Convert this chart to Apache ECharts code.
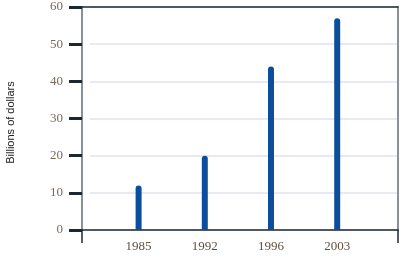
<!DOCTYPE html>
<html><head><meta charset="utf-8">
<script src="https://cdn.jsdelivr.net/npm/echarts@6/dist/echarts.min.js"></script>
<style>html,body{margin:0;padding:0;background:#fff}#c{width:407px;height:262px}</style>
</head><body><div id="c"></div>
<script>
const categories = ['1985', '1992', '1996', '2003'];
const values = [12, 20, 44, 57];
const yTicks = [0, 10, 20, 30, 40, 50, 60];
const yTitle = 'Billions of dollars';

const serif = '"Liberation Serif", "DejaVu Serif", serif';
const chart = echarts.init(document.getElementById('c'));
const g = {top: 7, bottom: 32, containLabel: false, outerBoundsMode: 'none'};
chart.setOption({
  animation: false,
  grid: [
    Object.assign({left: 82, right: 9}, g),
    Object.assign({left: 90, right: 9}, g),
    Object.assign({left: 105.5, right: 36.7}, g)
  ],
  xAxis: [
    {gridIndex: 0, type: 'value', min: 0, max: 1, interval: 1, position: 'bottom',
     axisLine: {show: true, onZero: false, lineStyle: {color: '#1c2733', width: 1.5}},
     axisTick: {show: true, length: 13, lineStyle: {color: '#1c2733', width: 1.5}},
     axisLabel: {show: false}, splitLine: {show: false}},
    {gridIndex: 0, type: 'value', min: 0, max: 1, position: 'top',
     axisLine: {show: true, onZero: false, lineStyle: {color: '#1c2733', width: 1.5}},
     axisTick: {show: false}, axisLabel: {show: false}, splitLine: {show: false}},
    {gridIndex: 1, type: 'value', min: 0, max: 1, show: false},
    {gridIndex: 2, type: 'category', data: categories, boundaryGap: true,
     axisLine: {show: false, onZero: false}, axisTick: {show: false},
     axisLabel: {color: '#5e5040', fontFamily: serif, fontSize: 13, margin: 10}}
  ],
  yAxis: [
    {gridIndex: 0, type: 'value', min: yTicks[0], max: yTicks[yTicks.length - 1],
     interval: yTicks[1] - yTicks[0], position: 'left',
     name: yTitle, nameLocation: 'middle', nameGap: 66, nameRotate: 90,
     nameTextStyle: {color: '#222', fontFamily: '"Liberation Sans", Arial, sans-serif', fontSize: 11, padding: [0, 8, 0, 0]},
     axisLine: {show: true, onZero: false, lineStyle: {color: '#8a9098', width: 2}},
     axisTick: {show: true, length: 13, lineStyle: {color: '#1c2733', width: 3}},
     axisLabel: {color: '#7a6a58', fontFamily: serif, fontSize: 13, margin: 19},
     splitLine: {show: false}},
    {gridIndex: 0, type: 'value', min: 0, max: 60, position: 'right',
     axisLine: {show: true, onZero: false, lineStyle: {color: '#8a9098', width: 2}},
     axisTick: {show: false}, axisLabel: {show: false}, splitLine: {show: false}},
    {gridIndex: 1, type: 'value', min: 0, max: 60, interval: 10,
     axisLine: {show: false, onZero: false}, axisTick: {show: false}, axisLabel: {show: false},
     splitLine: {show: true, lineStyle: {color: '#dfe5ec', width: 1.5}}},
    {gridIndex: 2, type: 'value', min: 0, max: 60, show: false}
  ],
  series: [{
    type: 'bar', xAxisIndex: 3, yAxisIndex: 3, data: values, barWidth: 6,
    itemStyle: {color: '#0b4f9c', borderRadius: [3, 3, 0, 0]}, z: 5
  }]
});
</script></body></html>
